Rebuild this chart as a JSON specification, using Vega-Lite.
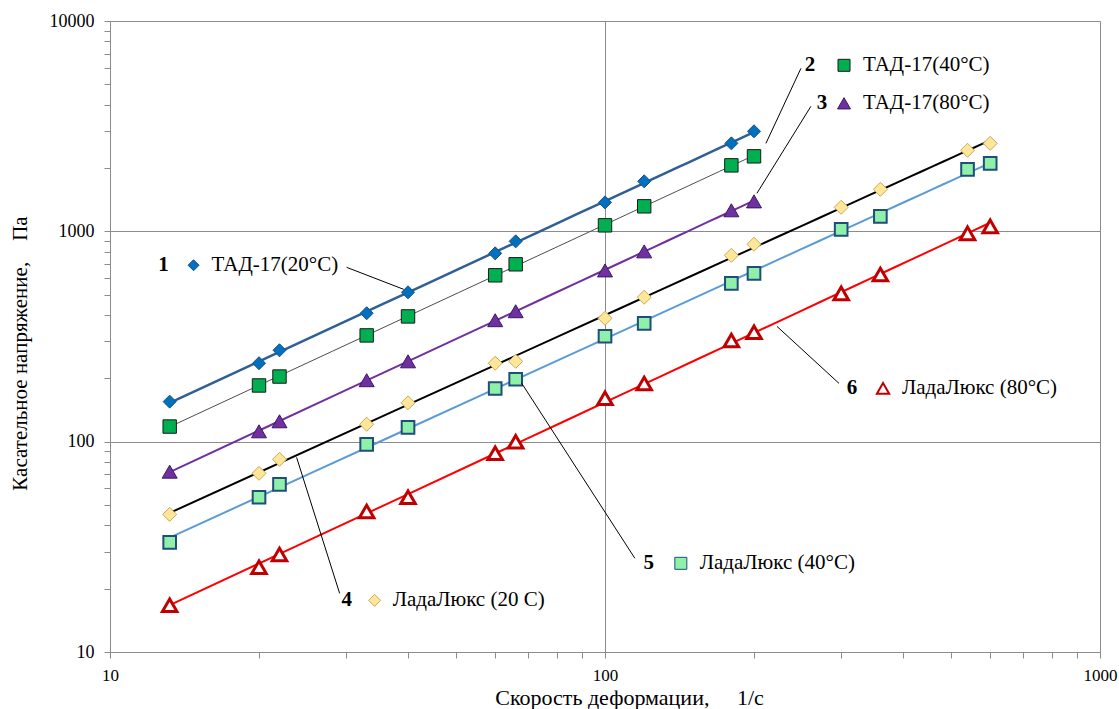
{
  "$schema": "https://vega.github.io/schema/vega-lite/v6.json",
  "width": 990,
  "height": 631,
  "autosize": "none",
  "padding": {"left": 110, "top": 21, "right": 19, "bottom": 57},
  "background": "white",
  "config": {"view": {"stroke": null}, "font": "Liberation Serif"},
  "datasets": {
    "pts": [
      {"s": 1, "x": 13.2, "y": 155}, {"s": 1, "x": 20, "y": 236}, {"s": 1, "x": 22, "y": 272}, {"s": 1, "x": 33, "y": 408}, {"s": 1, "x": 40, "y": 513}, {"s": 1, "x": 60, "y": 786}, {"s": 1, "x": 66, "y": 896}, {"s": 1, "x": 100, "y": 1373}, {"s": 1, "x": 120, "y": 1729}, {"s": 1, "x": 180, "y": 2620}, {"s": 1, "x": 200, "y": 2989},
      {"s": 2, "x": 13.2, "y": 118}, {"s": 2, "x": 20, "y": 185}, {"s": 2, "x": 22, "y": 204}, {"s": 2, "x": 33, "y": 320}, {"s": 2, "x": 40, "y": 394}, {"s": 2, "x": 60, "y": 618}, {"s": 2, "x": 66, "y": 697}, {"s": 2, "x": 100, "y": 1068}, {"s": 2, "x": 120, "y": 1315}, {"s": 2, "x": 180, "y": 2059}, {"s": 2, "x": 200, "y": 2273},
      {"s": 3, "x": 13.2, "y": 72}, {"s": 3, "x": 20, "y": 112}, {"s": 3, "x": 22, "y": 125}, {"s": 3, "x": 33, "y": 196}, {"s": 3, "x": 40, "y": 241}, {"s": 3, "x": 60, "y": 378}, {"s": 3, "x": 66, "y": 417}, {"s": 3, "x": 100, "y": 652}, {"s": 3, "x": 120, "y": 803}, {"s": 3, "x": 180, "y": 1259}, {"s": 3, "x": 200, "y": 1388},
      {"s": 4, "x": 13.2, "y": 45.1}, {"s": 4, "x": 20, "y": 70.7}, {"s": 4, "x": 22, "y": 82.4}, {"s": 4, "x": 33, "y": 121}, {"s": 4, "x": 40, "y": 153}, {"s": 4, "x": 60, "y": 236}, {"s": 4, "x": 66, "y": 241}, {"s": 4, "x": 100, "y": 386}, {"s": 4, "x": 120, "y": 486}, {"s": 4, "x": 180, "y": 769}, {"s": 4, "x": 200, "y": 868}, {"s": 4, "x": 300, "y": 1301}, {"s": 4, "x": 360, "y": 1584}, {"s": 4, "x": 540, "y": 2428}, {"s": 4, "x": 600, "y": 2620},
      {"s": 5, "x": 13.2, "y": 33.2}, {"s": 5, "x": 20, "y": 54.4}, {"s": 5, "x": 22, "y": 62.7}, {"s": 5, "x": 33, "y": 97.1}, {"s": 5, "x": 40, "y": 117}, {"s": 5, "x": 60, "y": 179}, {"s": 5, "x": 66, "y": 198}, {"s": 5, "x": 100, "y": 317}, {"s": 5, "x": 120, "y": 365}, {"s": 5, "x": 180, "y": 566}, {"s": 5, "x": 200, "y": 631}, {"s": 5, "x": 300, "y": 1022}, {"s": 5, "x": 360, "y": 1178}, {"s": 5, "x": 540, "y": 1971}, {"s": 5, "x": 600, "y": 2105},
      {"s": 6, "x": 13.2, "y": 16.7}, {"s": 6, "x": 20, "y": 25.3}, {"s": 6, "x": 22, "y": 29.1}, {"s": 6, "x": 33, "y": 46.6}, {"s": 6, "x": 40, "y": 54.4}, {"s": 6, "x": 60, "y": 88}, {"s": 6, "x": 66, "y": 100}, {"s": 6, "x": 100, "y": 161}, {"s": 6, "x": 120, "y": 189}, {"s": 6, "x": 180, "y": 303}, {"s": 6, "x": 200, "y": 331}, {"s": 6, "x": 300, "y": 507}, {"s": 6, "x": 360, "y": 624}, {"s": 6, "x": 540, "y": 978}, {"s": 6, "x": 600, "y": 1056}
    ],
    "ann": [
      {"s": 1, "n": "1", "x": 12.83, "ix": 14.75, "tx": 16.04, "y": 690, "t": "ТАД-17(20°C)"},
      {"s": 2, "n": "2", "x": 259.4, "ix": 304, "tx": 331.9, "y": 6156, "t": "ТАД-17(40°C)"},
      {"s": 3, "n": "3", "x": 274.3, "ix": 304, "tx": 331.9, "y": 4062, "t": "ТАД-17(80°C)"},
      {"s": 4, "n": "4", "x": 30.07, "ix": 34.24, "tx": 37.24, "y": 17.6, "t": "ЛадаЛюкс (20  C)"},
      {"s": 5, "n": "5", "x": 122.6, "ix": 142.3, "tx": 155.4, "y": 26.4, "t": "ЛадаЛюкс (40°C)"},
      {"s": 6, "n": "6", "x": 315.4, "ix": 364.5, "tx": 398, "y": 179.2, "t": "ЛадаЛюкс (80°C)"}
    ],
    "lead": [
      {"x": 30.07, "y": 674, "x2": 39.2, "y2": 530},
      {"x": 211.4, "y": 2620, "x2": 248.8, "y2": 5957},
      {"x": 202.7, "y": 1516, "x2": 260.6, "y2": 3930},
      {"x": 23.82, "y": 84.2, "x2": 29.1, "y2": 19.0},
      {"x": 67.9, "y": 189.3, "x2": 114.9, "y2": 27.9},
      {"x": 222.5, "y": 353.4, "x2": 297, "y2": 189.3}
    ]
  },
  "resolve": {"scale": {"strokeWidth": "independent", "size": "independent"}},
  "layer": [
    {
      "data": {"name": "pts"},
      "transform": [{"regression": "y", "on": "x", "groupby": ["s"], "method": "pow"}],
      "mark": {"type": "line"},
      "encoding": {
        "x": {
          "field": "x", "type": "quantitative",
          "scale": {"type": "log", "domain": [10, 1000], "nice": false},
          "axis": {
            "title": "Скорость деформации,\u00a0\u00a0\u00a0\u00a0\u00a01/с",
            "values": [10, 20, 30, 40, 50, 60, 70, 80, 90, 100, 200, 300, 400, 500, 600, 700, 800, 900, 1000],
            "format": "d",
            "labelExpr": "indexof([10,100,1000], datum.value) >= 0 ? datum.label : ''",
            "labelOverlap": false,
            "labelFlush": false,
            "grid": true,
            "gridColor": "#8c8c8c",
            "gridOpacity": {"condition": {"test": "indexof([10,100,1000], datum.value) >= 0", "value": 1}, "value": 0},
            "domainColor": "#8c8c8c",
            "tickColor": "#8c8c8c",
            "tickSize": 6,
            "labelFont": "Liberation Serif", "labelFontSize": 17, "labelColor": "black", "labelPadding": 9,
            "titleFont": "Liberation Serif", "titleFontSize": 22, "titleFontWeight": "normal", "titleColor": "black",
            "titleX": 519, "titleY": 52, "titleAlign": "center", "titleBaseline": "alphabetic"
          }
        },
        "y": {
          "field": "y", "type": "quantitative",
          "scale": {"type": "log", "domain": [10, 10000], "nice": false},
          "axis": {
            "title": "Касательное напряжение,\u00a0\u00a0\u00a0\u00a0Па",
            "values": [10, 20, 30, 40, 50, 60, 70, 80, 90, 100, 200, 300, 400, 500, 600, 700, 800, 900, 1000, 2000, 3000, 4000, 5000, 6000, 7000, 8000, 9000, 10000],
            "format": "d",
            "labelExpr": "indexof([10,100,1000,10000], datum.value) >= 0 ? datum.label : ''",
            "labelOverlap": false,
            "labelFlush": false,
            "grid": true,
            "gridColor": "#8c8c8c",
            "gridOpacity": {"condition": {"test": "indexof([10,100,1000,10000], datum.value) >= 0", "value": 1}, "value": 0},
            "domainColor": "#8c8c8c",
            "tickColor": "#8c8c8c",
            "tickSize": 6,
            "labelFont": "Liberation Serif", "labelFontSize": 18, "labelColor": "black", "labelPadding": 10,
            "titleFont": "Liberation Serif", "titleFontSize": 21, "titleFontWeight": "normal", "titleColor": "black",
            "titleX": -90, "titleY": 332, "titleAngle": 270, "titleAlign": "center", "titleBaseline": "middle"
          }
        },
        "color": {"field": "s", "type": "nominal", "scale": {"domain": [1, 2, 3, 4, 5, 6], "range": ["#2f5f95", "#4d4d4d", "#7030a0", "#000000", "#5b9bd5", "#ff0000"]}, "legend": null},
        "strokeWidth": {"field": "s", "type": "quantitative", "scale": {"type": "threshold", "domain": [1.5, 2.5, 3.5, 4.5, 5.5], "range": [2.5, 1, 2, 2, 2, 2]}, "legend": null}
      }
    },
    {
      "data": {"name": "pts"},
      "mark": {"type": "point", "filled": true, "opacity": 1},
      "encoding": {
        "x": {"field": "x", "type": "quantitative"},
        "y": {"field": "y", "type": "quantitative"},
        "shape": {"field": "s", "type": "nominal", "scale": {"domain": [1, 2, 3, 4, 5, 6], "range": ["diamond", "square", "triangle-up", "diamond", "square", "triangle-up"]}, "legend": null},
        "fill": {"field": "s", "type": "nominal", "scale": {"domain": [1, 2, 3, 4, 5, 6], "range": ["#0070c0", "#00b050", "#7030a0", "#ffe699", "#8ff0aa", "#ffffff"]}, "legend": null},
        "stroke": {"field": "s", "type": "nominal", "scale": {"domain": [1, 2, 3, 4, 5, 6], "range": ["#1f4e79", "#1a1a1a", "#3b1960", "#c9a85c", "#1f4e79", "#c00000"]}, "legend": null},
        "size": {"field": "s", "type": "quantitative", "scale": {"type": "threshold", "domain": [1.5, 2.5, 3.5, 4.5, 5.5], "range": [169, 180, 225, 196, 160, 210]}, "legend": null},
        "strokeWidth": {"field": "s", "type": "quantitative", "scale": {"type": "threshold", "domain": [1.5, 2.5, 3.5, 4.5, 5.5], "range": [1, 1, 1, 1, 2, 3]}, "legend": null}
      }
    },
    {
      "data": {"name": "lead"},
      "mark": {"type": "rule", "color": "#000000", "strokeWidth": 1},
      "encoding": {
        "x": {"field": "x", "type": "quantitative"},
        "y": {"field": "y", "type": "quantitative"},
        "x2": {"field": "x2"},
        "y2": {"field": "y2"}
      }
    },
    {
      "data": {"name": "ann"},
      "mark": {"type": "point", "filled": true, "opacity": 1},
      "encoding": {
        "x": {"field": "ix", "type": "quantitative"},
        "y": {"field": "y", "type": "quantitative"},
        "shape": {"field": "s", "type": "nominal", "scale": {"domain": [1, 2, 3, 4, 5, 6], "range": ["diamond", "square", "triangle-up", "diamond", "square", "triangle-up"]}, "legend": null},
        "fill": {"field": "s", "type": "nominal", "scale": {"domain": [1, 2, 3, 4, 5, 6], "range": ["#0070c0", "#00b050", "#7030a0", "#ffe699", "#8ff0aa", "#ffffff"]}, "legend": null},
        "stroke": {"field": "s", "type": "nominal", "scale": {"domain": [1, 2, 3, 4, 5, 6], "range": ["#1f4e79", "#1a1a1a", "#3b1960", "#c9a85c", "#1f4e79", "#c00000"]}, "legend": null},
        "size": {"field": "s", "type": "quantitative", "scale": {"type": "threshold", "domain": [1.5, 2.5, 3.5, 4.5, 5.5], "range": [121, 144, 169, 144, 144, 150]}, "legend": null},
        "strokeWidth": {"field": "s", "type": "quantitative", "scale": {"type": "threshold", "domain": [1.5, 2.5, 3.5, 4.5, 5.5], "range": [1, 1, 1, 1, 1, 2]}, "legend": null}
      }
    },
    {
      "data": {"name": "ann"},
      "mark": {"type": "text", "font": "Liberation Serif", "fontSize": 21, "fontWeight": "bold", "align": "center", "baseline": "middle", "color": "black"},
      "encoding": {
        "x": {"field": "x", "type": "quantitative"},
        "y": {"field": "y", "type": "quantitative"},
        "text": {"field": "n"}
      }
    },
    {
      "data": {"name": "ann"},
      "mark": {"type": "text", "font": "Liberation Serif", "fontSize": 21, "align": "left", "baseline": "middle", "color": "black"},
      "encoding": {
        "x": {"field": "tx", "type": "quantitative"},
        "y": {"field": "y", "type": "quantitative"},
        "text": {"field": "t"}
      }
    }
  ]
}
